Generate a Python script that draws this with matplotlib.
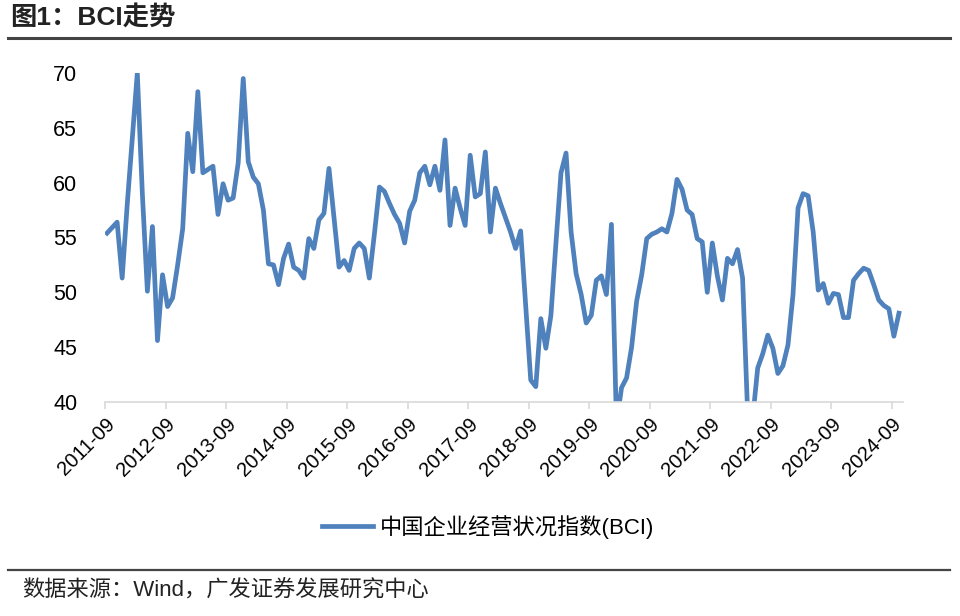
import numpy as np
import matplotlib
matplotlib.use("Agg")
import matplotlib.pyplot as plt
from matplotlib.lines import Line2D

plt.rcParams['font.family'] = ['Liberation Sans', 'Noto Sans CJK SC', 'DejaVu Sans']

# BCI monthly values, 2011-09 .. 2024-10
bci = [
    55.4, 55.9, 56.4, 51.3, 58.0, 64.0, 70.0, 59.0, 50.1, 56.0, 45.6, 51.6,
    48.7, 49.5, 52.5, 55.8, 64.5, 61.0, 68.3, 60.9, 61.2, 61.5, 57.1, 59.9,
    58.4, 58.6, 61.8, 69.5, 61.9, 60.5, 59.9, 57.5, 52.6, 52.5, 50.7, 53.1,
    54.4, 52.3, 52.0, 51.3, 54.9, 54.0, 56.6, 57.2, 61.3, 56.8, 52.3, 52.9,
    52.0, 54.0, 54.5, 54.0, 51.3, 55.3, 59.6, 59.2, 58.1, 57.1, 56.3, 54.5,
    57.4, 58.4, 60.9, 61.5, 59.8, 61.5, 59.3, 63.9, 56.1, 59.5, 57.7, 56.1,
    62.5, 58.7, 59.0, 62.8, 55.5, 59.5, 58.1, 56.8, 55.5, 54.0, 55.6, 48.8,
    42.0, 41.4, 47.6, 44.9, 47.9, 54.5, 60.9, 62.7, 55.5, 51.7, 49.8, 47.2,
    47.9, 51.1, 51.5, 49.8, 56.2, 38.0, 41.3, 42.2, 45.0, 49.2, 51.6, 54.9,
    55.3, 55.5, 55.8, 55.5, 57.2, 60.3, 59.4, 57.5, 57.1, 54.9, 54.6, 50.0,
    54.5, 51.5, 49.3, 53.1, 52.6, 53.9, 51.3, 39.0, 38.5, 43.1, 44.4, 46.1,
    44.9, 42.6, 43.3, 45.2, 49.8, 57.7, 59.0, 58.8, 55.5, 50.2, 50.8, 49.0,
    49.9, 49.8, 47.7, 47.7, 51.1, 51.7, 52.2, 52.0, 50.7, 49.3, 48.8, 48.5,
    46.0, 48.1,
]
tick_labels = [f"{y}-09" for y in range(2011, 2025)]
y_ticks = [40, 45, 50, 55, 60, 65, 70]

title = "图1：BCI走势"
legend_label = "中国企业经营状况指数(BCI)"
source = "数据来源：Wind，广发证券发展研究中心"

line_color = "#4f81bd"

fig = plt.figure(figsize=(9.6, 6.16), dpi=100)
ax = fig.add_axes([0.1094, 0.3474, 0.8312, 0.5341])

x = np.arange(len(bci)) + 0.4
ax.plot(x, bci, color=line_color, lw=3.4, label=legend_label, solid_joinstyle='round')

ax.set_xlim(0, 158.2)
ax.set_ylim(40, 70)
ax.set_yticks(y_ticks)
ax.set_xticks(np.arange(0, 157, 12))
ax.set_xticklabels(tick_labels, rotation=45, ha='right', rotation_mode='anchor')

for s in ['top', 'right', 'left']:
    ax.spines[s].set_visible(False)
ax.spines['bottom'].set_color('#d9d9d9')
ax.spines['bottom'].set_linewidth(1.2)
ax.tick_params(axis='x', direction='out', length=5, color='#d9d9d9', width=1.2,
               labelsize=14.5, labelcolor='#000000', pad=4)
ax.tick_params(axis='y', length=0, labelsize=15.5, labelcolor='#000000', pad=20)

leg = fig.legend(loc='center', bbox_to_anchor=(0.508, 0.145), frameon=False,
                 fontsize=16, handlelength=2.3, handletextpad=0.3)

# header and footer
fig.text(0.011, 0.972, title, fontsize=19, fontweight='bold', va='center', ha='left',
         color='#222222')
fig.add_artist(Line2D([0.008, 0.99], [0.938, 0.938], color='#444444', lw=2.2))
fig.add_artist(Line2D([0.008, 0.99], [0.074, 0.074], color='#444444', lw=1.6))
fig.text(0.023, 0.040, source, fontsize=16, va='center', ha='left', color='#222222')

fig.savefig("out.png", dpi=100)
